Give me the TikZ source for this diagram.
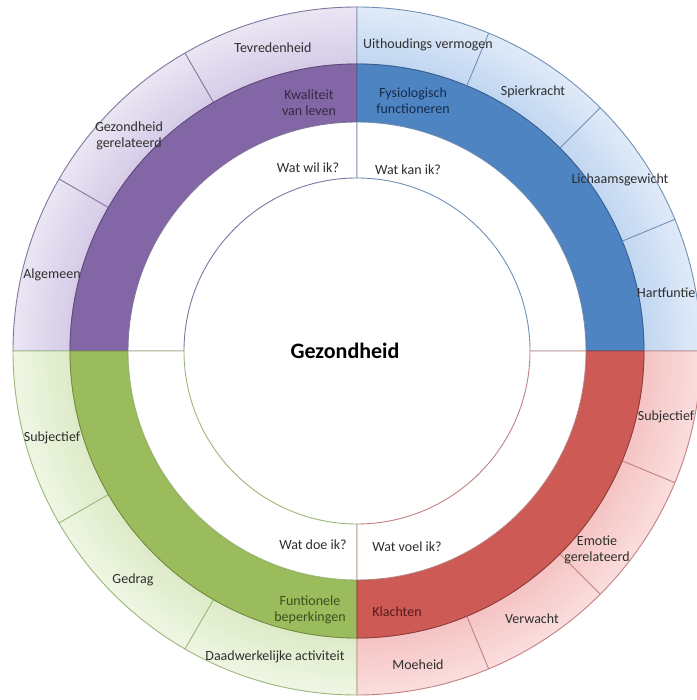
\documentclass[tikz,border=0pt]{standalone}
\usepackage{fontspec}
\setmainfont{Carlito}
\definecolor{txt}{HTML}{2E2E2E}
% purple
\definecolor{pIn}{HTML}{D6CCE8}\definecolor{pOut}{HTML}{EAE5F3}
\definecolor{pDark}{HTML}{8366A6}\definecolor{pDarkB}{HTML}{5F497A}
\definecolor{pLine}{HTML}{8475A0}\definecolor{pTxt}{HTML}{33283F}
% blue
\definecolor{bIn}{HTML}{C2D7F2}\definecolor{bOut}{HTML}{DFEAF8}
\definecolor{bDark}{HTML}{4F84C2}\definecolor{bDarkB}{HTML}{385D8A}
\definecolor{bLine}{HTML}{7290B5}\definecolor{bTxt}{HTML}{132C4C}
% green
\definecolor{gIn}{HTML}{DEEBC8}\definecolor{gOut}{HTML}{EEF6E3}
\definecolor{gDark}{HTML}{9BBC5C}\definecolor{gDarkB}{HTML}{71893F}
\definecolor{gLine}{HTML}{9CB77A}\definecolor{gTxt}{HTML}{3E4E1F}
% red
\definecolor{rIn}{HTML}{F5C4C4}\definecolor{rOut}{HTML}{FADCDC}
\definecolor{rDark}{HTML}{CD5A55}\definecolor{rDarkB}{HTML}{8C3836}
\definecolor{rLine}{HTML}{C28282}\definecolor{rTxt}{HTML}{521C1B}

\newcommand\ringgrad[4]{%
  \foreach \k in {0,...,11}{%
    \pgfmathsetmacro\ra{287+\k*57/12}%
    \pgfmathsetmacro\rb{min(\ra+57/12+0.4,344)}%
    \pgfmathtruncatemacro\pc{100-\k*100/11}%
    \fill[#3!\pc!#4] (#1:\ra pt) arc[start angle=#1,end angle=#2,radius=\ra pt]
      -- (#2:\rb pt) arc[start angle=#2,end angle=#1,radius=\rb pt] -- cycle;
  }}
\newcommand\annsec[5]{%
  \filldraw[#5] (#1:#3pt) arc[start angle=#1,end angle=#2,radius=#3pt]
    -- (#2:#4pt) arc[start angle=#2,end angle=#1,radius=#4pt] -- cycle;}
\newcommand\quadrant[8]{% a b in out dark darkb line divisions
  \ringgrad{#1}{#2}{#3}{#4}
  \foreach \d in {#8}{\draw[#7,line width=0.9pt] (\d:287pt) -- (\d:344pt);}
  \annsec{#1}{#2}{287}{344}{draw=#7,line width=0.9pt,fill=none}
  \annsec{#1}{#2}{229}{287}{fill=#5,draw=#6,line width=0.8pt}
  \annsec{#1}{#2}{173}{229}{fill=white,draw=#7,line width=0.9pt}}

\begin{document}
\begin{tikzpicture}[x=1pt,y=1pt,
  lbl/.style={font=\fontsize{14}{16}\selectfont, text=txt, align=center, inner sep=0pt}]
\useasboundingbox (-357,-349) rectangle (339,351);
\fill[white] (-357,-349) rectangle (339,351);

\quadrant{90}{180}{pIn}{pOut}{pDark}{pDarkB}{pLine}{120,150}
\quadrant{0}{90}{bIn}{bOut}{bDark}{bDarkB}{bLine}{22.5,45,67.5}
\quadrant{180}{270}{gIn}{gOut}{gDark}{gDarkB}{gLine}{210,240}
\quadrant{270}{360}{rIn}{rOut}{rDark}{rDarkB}{rLine}{292.5,315,337.5}

% centre
\node[font=\bfseries\fontsize{22}{24}\selectfont, text=black] (center) at (-12,0) {Gezondheid};

% purple
\node[lbl] (tevr) at (-84,303) {Tevredenheid};
\node[lbl] (gezg) at (-228,215) {Gezondheid\\gerelateerd};
\node[lbl] (alg) at (-305,76) {Algemeen};
\node[lbl, text=pTxt] (kwal) at (-48,248) {Kwaliteit\\van leven};
\node[lbl] (wil) at (-49,183) {Wat wil ik?};

% blue
\node[lbl] (uith) at (71,306) {Uithoudings vermogen};
\node[lbl, text=bTxt] (fys) at (56,250) {Fysiologisch\\functioneren};
\node[lbl] (spier) at (176,259) {Spierkracht};
\node[lbl] (kan) at (51,181) {Wat kan ik?};
\node[lbl] (lich) at (263,171) {Lichaamsgewicht};
\node[lbl, anchor=west] (hart) at (280,58) {Hartfuntie};

% green
\node[lbl] (subjL) at (-305,-87) {Subjectief};
\node[lbl] (gedr) at (-224,-229) {Gedrag};
\node[lbl] (doe) at (-44,-194) {Wat doe ik?};
\node[lbl, text=gTxt] (funt) at (-47,-259) {Funtionele\\beperkingen};
\node[lbl] (daad) at (-82,-306) {Daadwerkelijke activiteit};

% red
\node[lbl] (voel) at (50,-196) {Wat voel ik?};
\node[lbl, text=rTxt] (klach) at (40,-261) {Klachten};
\node[lbl] (emot) at (240,-199) {Emotie\\gerelateerd};
\node[lbl] (verw) at (175,-268) {Verwacht};
\node[lbl] (moe) at (61,-314) {Moeheid};
\node[lbl] (subjR) at (309,-66) {Subjectief};
\end{tikzpicture}
\end{document}
